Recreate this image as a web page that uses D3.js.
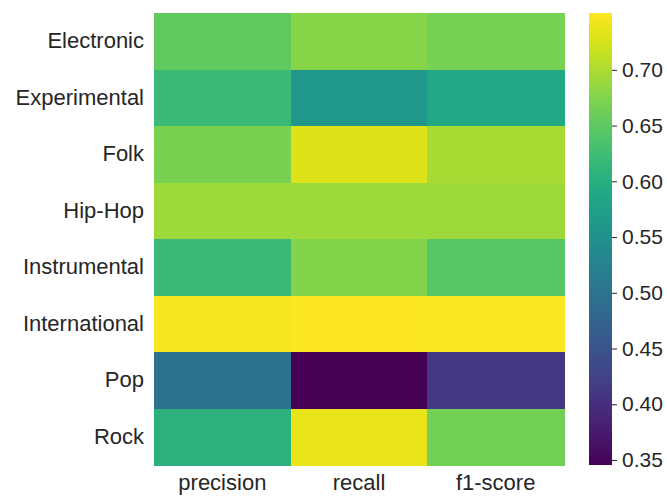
<!DOCTYPE html>
<html>
<head>
<meta charset="utf-8">
<script src="https://cdn.jsdelivr.net/npm/d3@7"></script>
<style>
  html, body { margin: 0; padding: 0; background: #fff; }
  svg { display: block; }
  text { font-family: "Liberation Sans", Arial, Helvetica, sans-serif; fill: #262626; }
</style>
</head>
<body>
<svg id="chart" width="667" height="496"></svg>
<script>
// Per-genre classification scores
const genres = ["Electronic", "Experimental", "Folk", "Hip-Hop", "Instrumental", "International", "Pop", "Rock"];
const metrics = ["precision", "recall", "f1-score"];
const precision = [0.652, 0.620, 0.669, 0.692, 0.620, 0.745, 0.497, 0.604];
const recall    = [0.677, 0.560, 0.730, 0.692, 0.676, 0.751, 0.3455, 0.738];
const f1score   = [0.668, 0.588, 0.698, 0.692, 0.644, 0.749, 0.411, 0.664];
const colorbarTicks = [0.35, 0.40, 0.45, 0.50, 0.55, 0.60, 0.65, 0.70];

const seriesByMetric = { "precision": precision, "recall": recall, "f1-score": f1score };
const cells = [];
genres.forEach((g, i) => {
  metrics.forEach(m => cells.push({ genre: g, metric: m, value: seriesByMetric[m][i] }));
});

const svg = d3.select("#chart");
const plot = { left: 154, right: 564, top: 13, bottom: 465 };

const x = d3.scaleBand().domain(metrics).range([plot.left, plot.right]).padding(0);
const y = d3.scaleBand().domain(genres).range([plot.top, plot.bottom]).padding(0);
const extent = d3.extent(cells, d => d.value);
const color = d3.scaleSequential(d3.interpolateViridis).domain(extent);

// Heatmap cells
svg.append("g")
  .selectAll("rect")
  .data(cells)
  .join("rect")
  .attr("x", d => x(d.metric))
  .attr("y", d => y(d.genre))
  .attr("width", x.bandwidth() + 0.5)
  .attr("height", y.bandwidth() + 0.5)
  .attr("fill", d => color(d.value))
  .attr("shape-rendering", "crispEdges");

// Row labels
const yAxis = svg.append("g")
  .attr("transform", `translate(${plot.left},0)`)
  .call(d3.axisLeft(y).tickSize(0).tickPadding(10));
yAxis.select(".domain").remove();
yAxis.selectAll("text").attr("font-size", 22).attr("fill", "#262626")
  .style("font-family", "'Liberation Sans', Arial, sans-serif");

// Column labels
const xAxis = svg.append("g")
  .attr("transform", `translate(0,${plot.bottom})`)
  .call(d3.axisBottom(x).tickSize(0).tickPadding(9));
xAxis.select(".domain").remove();
xAxis.selectAll("text").attr("font-size", 22).attr("fill", "#262626")
  .style("font-family", "'Liberation Sans', Arial, sans-serif");

// Colorbar
const cb = { left: 589, width: 23 };
const cbScale = d3.scaleLinear().domain(extent).range([plot.bottom, plot.top]);
const defs = svg.append("defs");
const grad = defs.append("linearGradient")
  .attr("id", "cbGrad")
  .attr("x1", 0).attr("y1", 1).attr("x2", 0).attr("y2", 0);
d3.range(0, 1.0001, 0.02).forEach(t => {
  grad.append("stop").attr("offset", t).attr("stop-color", d3.interpolateViridis(t));
});
svg.append("rect")
  .attr("x", cb.left)
  .attr("y", plot.top)
  .attr("width", cb.width)
  .attr("height", plot.bottom - plot.top)
  .attr("fill", "url(#cbGrad)");

const cbAxis = svg.append("g")
  .attr("transform", `translate(${cb.left + cb.width},0)`)
  .call(d3.axisRight(cbScale).tickValues(colorbarTicks).tickFormat(d3.format(".2f")).tickSize(5).tickPadding(5));
cbAxis.select(".domain").remove();
cbAxis.selectAll("line").attr("stroke", "#262626").attr("stroke-width", 1);
cbAxis.selectAll("text").attr("font-size", 21).attr("fill", "#262626")
  .style("font-family", "'Liberation Sans', Arial, sans-serif");
</script>
</body>
</html>
